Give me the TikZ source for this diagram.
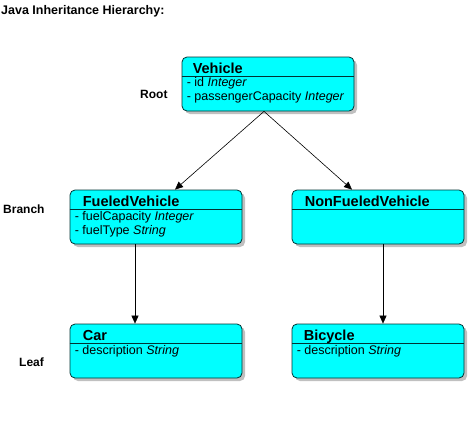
\documentclass[tikz,border=0pt]{standalone}
\usepackage{fontspec}
\setmainfont{Liberation Sans}
\usepackage{tikz}
\usetikzlibrary{arrows.meta,shadows}
\definecolor{boxline}{RGB}{0,51,51}
\definecolor{boxfill}{RGB}{0,255,255}
\definecolor{shadowgray}{RGB}{192,192,192}
\tikzstyle{classbox} = [rectangle, rounded corners=5pt, minimum width=172pt, minimum height=54pt, draw=boxline, line width=0.8pt, fill=boxfill, drop shadow={shadow xshift=3pt, shadow yshift=-3pt, fill=shadowgray, opacity=1}]
\tikzstyle{classname} = [anchor=base west, inner sep=0pt, font=\fontsize{14.5}{16}\selectfont\bfseries]
\tikzstyle{attrs} = [anchor=base west, inner sep=0pt, align=left, font=\fontsize{12.5}{14}\selectfont]
\tikzstyle{divider} = [draw=boxline, line width=0.8pt]
\tikzstyle{level} = [anchor=base west, inner sep=0pt, font=\fontsize{12}{14}\selectfont\bfseries]
\tikzstyle{arrow} = [line width=0.6pt, -{Triangle[length=8pt,width=7pt]}]

\begin{document}
\begin{tikzpicture}[x=1pt, y=-1pt]
\useasboundingbox (0,0) rectangle (470,420);
%title and level labels
\node (title) [level, font=\fontsize{12.5}{14}\selectfont\bfseries] at (1,14.5) {Java Inheritance Hierarchy:};
\node (root) [level] at (140,98) {Root};
\node (branch) [level] at (3,213) {Branch};
\node (leaf) [level] at (19,366) {Leaf};

%class boxes
\node (vehicle) [classbox] at (268,84) {};
\node (fueled) [classbox] at (156,217) {};
\node (nonfueled) [classbox] at (378,217) {};
\node (car) [classbox] at (156,351) {};
\node (bicycle) [classbox] at (378,351) {};

%class names
\node (vehicleName) [classname] at ([xshift=11pt,yshift=-16.5pt]vehicle.north west) {Vehicle};
\node (fueledName) [classname] at ([xshift=13pt,yshift=-16.5pt]fueled.north west) {FueledVehicle};
\node (nonfueledName) [classname] at ([xshift=13pt,yshift=-16.5pt]nonfueled.north west) {NonFueledVehicle};
\node (carName) [classname] at ([xshift=13pt,yshift=-16.5pt]car.north west) {Car};
\node (bicycleName) [classname] at ([xshift=12pt,yshift=-16.5pt]bicycle.north west) {Bicycle};

%dividers
\draw [divider] ([yshift=-20pt]vehicle.north west) -- ([yshift=-20pt]vehicle.north east);
\draw [divider] ([yshift=-20pt]fueled.north west) -- ([yshift=-20pt]fueled.north east);
\draw [divider] ([yshift=-20pt]nonfueled.north west) -- ([yshift=-20pt]nonfueled.north east);
\draw [divider] ([yshift=-20pt]car.north west) -- ([yshift=-20pt]car.north east);
\draw [divider] ([yshift=-20pt]bicycle.north west) -- ([yshift=-20pt]bicycle.north east);

%attributes (base = last line)
\node (vehicleAttr) [attrs] at ([xshift=5pt,yshift=-44pt]vehicle.north west) {- id \textit{Integer}\\- passengerCapacity \textit{Integer}};
\node (fueledAttr) [attrs] at ([xshift=5pt,yshift=-45pt]fueled.north west) {- fuelCapacity \textit{Integer}\\- fuelType \textit{String}};
\node (carAttr) [attrs] at ([xshift=5pt,yshift=-31pt]car.north west) {- description \textit{String}};
\node (bicycleAttr) [attrs] at ([xshift=5pt,yshift=-31pt]bicycle.north west) {- description \textit{String}};

%inheritance arrows
\draw [arrow] ([xshift=-4pt]vehicle.south) -- ([xshift=19pt]fueled.north);
\draw [arrow] ([xshift=-4pt]vehicle.south) -- ([xshift=-26pt]nonfueled.north);
\draw [arrow] ([xshift=-21pt]fueled.south) -- ([xshift=-21pt]car.north);
\draw [arrow] ([xshift=5pt]nonfueled.south) -- ([xshift=5pt]bicycle.north);
\end{tikzpicture}
\end{document}
